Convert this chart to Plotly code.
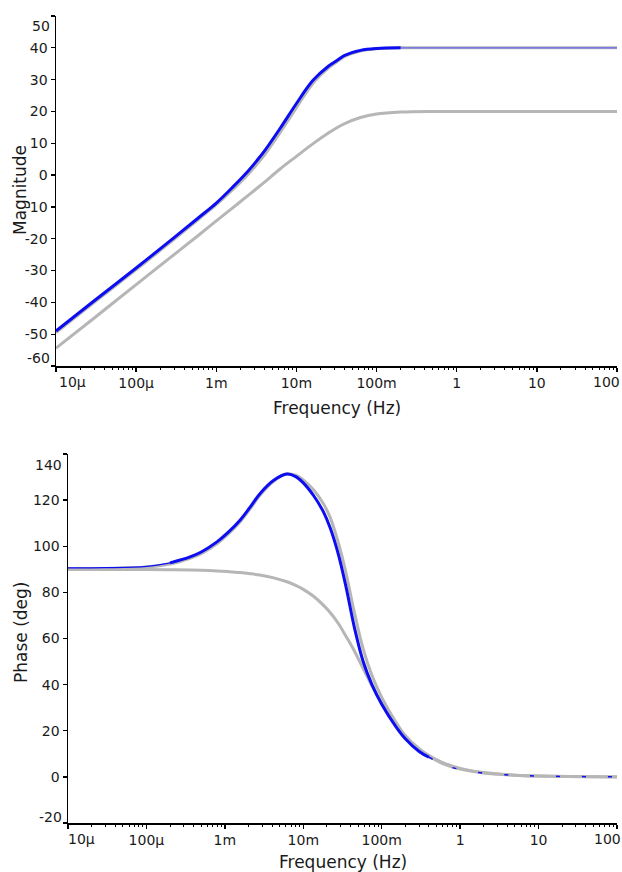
import plotly.graph_objects as go

# ---------------- data ----------------
freq_mag = [1e-5, 3e-5, 1e-4, 3e-4, 6e-4, 1e-3, 1.6e-3, 2.5e-3, 3.2e-3, 4e-3, 6.3e-3,
            1e-2, 1.6e-2, 2.5e-2, 3.2e-2, 4e-2, 6.3e-2, 0.1, 0.2, 0.5, 1, 10, 100]
mag_blue = [-49, -39.5, -29.2, -19.6, -13.4, -8.8, -3.8, 1.3, 4.5, 7.6, 14.8,
            22.5, 29.7, 34.2, 36.0, 37.6, 39.2, 39.8, 40.0, 40.0, 40.0, 40.0, 40.0]
mag_gray_hi = [-49.5, -40, -29.7, -20.1, -13.9, -9.3, -4.6, 0.3, 3.4, 6.4, 13.5,
               21.2, 28.8, 33.6, 35.6, 37.3, 39.0, 39.7, 40.0, 40.0, 40.0, 40.0, 40.0]
mag_gray_lo = [-54.4, -44.9, -34.4, -24.9, -18.9, -14.4, -10.3, -6.4, -4.2, -2.2, 2.0,
               5.9, 9.8, 13.2, 14.9, 16.2, 18.1, 19.2, 19.8, 20.0, 20.0, 20.0, 20.0]

freq_ph = [1e-5, 3e-5, 1e-4, 2e-4, 3.6e-4, 5e-4, 8e-4, 1.1e-3, 1.56e-3, 2.1e-3, 2.8e-3,
           4.2e-3, 6.2e-3, 8e-3, 1e-2, 1.35e-2, 1.8e-2, 2.2e-2, 2.8e-2, 3.5e-2, 4.5e-2,
           5.8e-2, 7.5e-2, 0.1, 0.15, 0.2, 0.3, 0.4, 0.6, 1, 2, 5, 10, 100]
ph_blue = [90.6, 90.7, 91.3, 92.8, 95.4, 97.5, 102, 106, 111.3, 117, 122.8,
           128.6, 131.3, 130.2, 127.5, 122, 115, 108, 96.5, 82.5, 64.5,
           50, 40, 31.5, 22, 16.5, 11, 8.5, 5.4, 3.2, 1.6, 0.7, 0.35, 0]
ph_gray_hi = [90.3, 90.4, 91.0, 92.3, 94.8, 96.8, 101.2, 105.2, 110.5, 116.2, 122.1,
              128.2, 131.4, 130.8, 128.8, 124.5, 118.5, 112.5, 101.5, 88.5, 71,
              55.5, 44, 34.5, 24, 17.8, 11.8, 9.0, 5.8, 3.4, 1.7, 0.75, 0.37, 0]
ph_gray_lo = [89.95, 89.95, 89.9, 89.8, 89.7, 89.6, 89.3, 89.0, 88.6, 88.1, 87.5,
              86.3, 84.6, 83.0, 81.3, 78.3, 74.5, 71.3, 66.5, 61.0, 54.5,
              47.0, 39.5, 32.0, 23.0, 17.8, 12.2, 9.2, 6.2, 3.7, 1.9, 0.74, 0.37, 0.04]

tick_vals = [1e-5, 1e-4, 1e-3, 1e-2, 1e-1, 1, 10, 100]
tick_text = ["10µ", "100µ", "1m", "10m", "100m", "1", "10", "100"]
mag_ticks = [50, 40, 30, 20, 10, 0, -10, -20, -30, -40, -50, -60]
ph_ticks = [140, 120, 100, 80, 60, 40, 20, 0, -20]

# ---------------- styling ----------------
W, H = 622, 872
FONT = "DejaVu Sans, Liberation Sans, Arial, sans-serif"
TXT = "#1a1a1a"
TICK_SIZE = 14
TITLE_SIZE = 17
BLUE = "#0d0df2"
BLUE_THIN = "#6a6af0"
GRAY = "#b6b6b6"

top_x = (56 / W, 617 / W)
top_y = ((H - 366) / H, (H - 16) / H)
bot_x = (68 / W, 617 / W)
bot_y = ((H - 823) / H, (H - 454) / H)

minor_vals = [m * 10 ** e for e in range(-5, 2) for m in range(2, 10)]

fig = go.Figure()

def line(x, y, xa, ya, color, width, dash="solid"):
    fig.add_trace(go.Scatter(x=x, y=y, xaxis=xa, yaxis=ya, mode="lines",
                             line=dict(color=color, width=width, shape="spline",
                                       smoothing=1.0, dash=dash),
                             hoverinfo="skip", showlegend=False))

# magnitude
line(freq_mag, mag_gray_lo, "x", "y", GRAY, 3)
line(freq_mag, mag_gray_hi, "x", "y", GRAY, 3)
line(freq_mag[:19], mag_blue[:19], "x", "y", BLUE, 3)
line(freq_mag[18:], mag_blue[18:], "x", "y", BLUE_THIN, 1.2)
# phase
line(freq_ph, ph_gray_lo, "x2", "y2", GRAY, 3)
line(freq_ph, ph_gray_hi, "x2", "y2", GRAY, 3)
line(freq_ph[:4], ph_blue[:4], "x2", "y2", BLUE, 1.3)
line(freq_ph[3:28], ph_blue[3:28], "x2", "y2", BLUE, 3)
line(freq_ph[27:], ph_blue[27:], "x2", "y2", BLUE, 1.5, dash="4px,22px")

def xaxis(domain, anchor):
    return dict(domain=list(domain), anchor=anchor, type="log",
                range=[-5, 2], tickmode="array", tickvals=tick_vals,
                ticktext=[""] + tick_text[1:-1] + [""],
                ticks="outside", ticklen=4, tickwidth=1.3, tickcolor="black",
                showline=True, linecolor="black", linewidth=1.5,
                showgrid=False, zeroline=False,
                tickfont=dict(family=FONT, size=TICK_SIZE, color=TXT),
                minor=dict(tickvals=minor_vals, ticks="outside", ticklen=2,
                           tickwidth=1, tickcolor="black", showgrid=False))

def yaxis(domain, anchor, rng, ticks):
    txt = [""] + [str(t) for t in ticks[1:-1]] + [""]
    return dict(domain=list(domain), anchor=anchor, range=rng,
                tickmode="array", tickvals=ticks, ticktext=txt,
                ticks="outside", ticklen=4, tickwidth=1.3, tickcolor="black",
                showline=True, linecolor="black", linewidth=1.5,
                showgrid=False, zeroline=False,
                tickfont=dict(family=FONT, size=TICK_SIZE, color=TXT))

annotations = []

def ann(text, x, y, xanchor="center", yanchor="middle", size=TICK_SIZE, angle=0,
        xref="paper", yref="paper", xshift=0, yshift=0):
    annotations.append(dict(text=text, x=x, y=y, xref=xref, yref=yref,
                            xanchor=xanchor, yanchor=yanchor, showarrow=False,
                            textangle=angle, xshift=xshift, yshift=yshift,
                            font=dict(family=FONT, size=size, color=TXT)))

# end tick labels (shifted inward as in the reference)
ann(tick_text[0], 72 / W, top_y[0], yanchor="top", yshift=-6)
ann(tick_text[-1], 606 / W, top_y[0], yanchor="top", yshift=-6)
ann(tick_text[0], 82 / W, bot_y[0], yanchor="top", yshift=-6)
ann(tick_text[-1], 607 / W, bot_y[0], yanchor="top", yshift=-6)
ann(str(mag_ticks[0]), top_x[0], (H - 26) / H, xanchor="right", xshift=-4)
ann(str(mag_ticks[-1]), top_x[0], (H - 358) / H, xanchor="right", xshift=-4)
ann(str(ph_ticks[0]), bot_x[0], (H - 465) / H, xanchor="right", xshift=-4)
ann(str(ph_ticks[-1]), bot_x[0], (H - 817) / H, xanchor="right", xshift=-4)

# axis titles
ann("Magnitude", 20 / W, (H - 190) / H, size=TITLE_SIZE, angle=-90)
ann("Phase (deg)", 21 / W, (H - 633) / H, size=TITLE_SIZE, angle=-90)
ann("Frequency (Hz)", 337 / W, (H - 408) / H, size=TITLE_SIZE)
ann("Frequency (Hz)", 342.5 / W, (H - 862) / H, size=TITLE_SIZE)

fig.update_layout(
    width=W, height=H, margin=dict(l=0, r=0, t=0, b=0),
    paper_bgcolor="white", plot_bgcolor="white",
    xaxis=xaxis(top_x, "y"),
    yaxis=yaxis(top_y, "x", [-60, 50], mag_ticks),
    xaxis2=xaxis(bot_x, "y2"),
    yaxis2=yaxis(bot_y, "x2", [-20, 140], ph_ticks),
    annotations=annotations,
    showlegend=False,
)

fig.write_html("out.html",
               config={"displayModeBar": False, "staticPlot": True},
               post_script="document.body.style.margin='0';"
                           "document.body.style.overflow='hidden';")
